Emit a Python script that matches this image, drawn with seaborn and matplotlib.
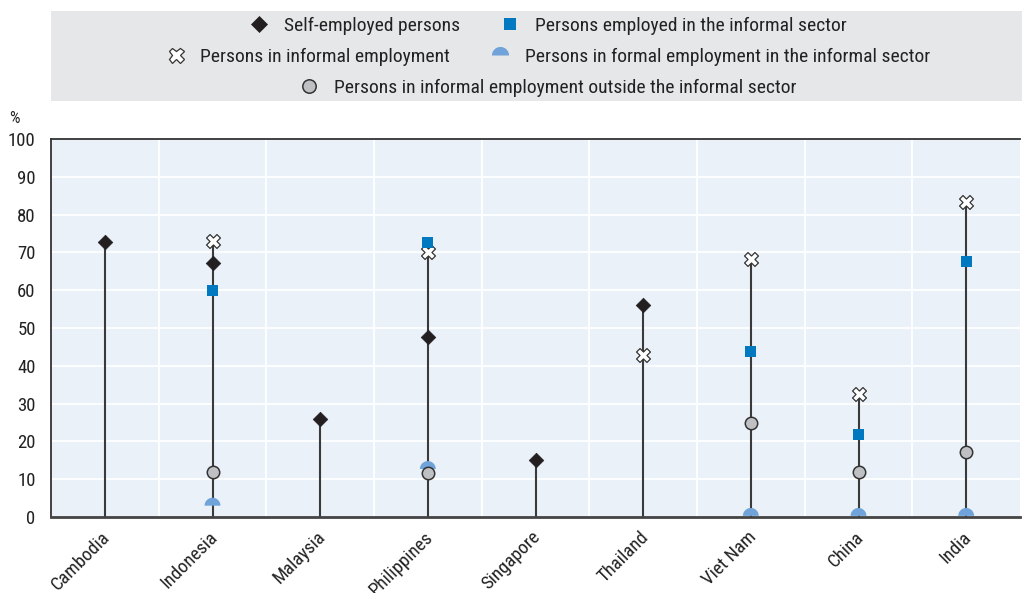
import numpy as np
import pandas as pd
import matplotlib
matplotlib.use("Agg")
import matplotlib.pyplot as plt
from matplotlib import font_manager
from matplotlib.lines import Line2D
from matplotlib.patches import Rectangle
from matplotlib.path import Path
from matplotlib.transforms import ScaledTranslation
import seaborn as sns

# ---- data (% of total employment) ----
countries = ["Cambodia", "Indonesia", "Malaysia", "Philippines", "Singapore",
             "Thailand", "Viet Nam", "China", "India"]
self_employed = [72.8, 67.3, 25.9, 47.5, 15.1, 56.0, np.nan, np.nan, np.nan]
informal_sector = [np.nan, 60.0, np.nan, 72.6, np.nan, np.nan, 43.7, 21.9, 67.6]
informal_employment = [np.nan, 73.1, np.nan, 70.0, np.nan, 42.8, 68.3, 32.5, 83.4]
formal_in_informal = [np.nan, 3.0, np.nan, 12.7, np.nan, np.nan, 0.3, 0.3, 0.3]
informal_outside = [np.nan, 12.0, np.nan, 11.6, np.nan, np.nan, 24.9, 12.0, 17.3]
y_ticks = [0, 10, 20, 30, 40, 50, 60, 70, 80, 90, 100]

labels = {
    "self": "Self-employed persons",
    "sector": "Persons employed in the informal sector",
    "inf": "Persons in informal employment",
    "formal": "Persons in formal employment in the informal sector",
    "outside": "Persons in informal employment outside the informal sector",
}

# ---- fonts: prefer a narrow sans ----
sns.set_theme(style="white")
available = {f.name for f in font_manager.fontManager.ttflist}
FAMILY = "Liberation Sans"
for cand in ["Arial Narrow", "Liberation Sans Narrow", "Roboto Condensed",
             "PT Sans Narrow", "Archivo Narrow", "Fira Sans Condensed",
             "IBM Plex Sans Condensed"]:
    if cand in available:
        FAMILY = cand
        break
FS_LEG = 14.0
FS_TICK = 13.5
plt.rcParams["font.family"] = [FAMILY, "DejaVu Sans"]

# ---- styles ----
C_DIAMOND = "#231f20"
C_SQUARE = "#0079c1"
C_HALF = "#6fa3d9"
C_CIRCLE = "#bfc0c3"
C_EDGE = "#333333"
C_STEM = "#3a3a3a"
C_TEXT = "#222222"
BG_PLOT = "#eaf1f9"
BG_LEGEND = "#e6e7e8"

theta = np.linspace(0, np.pi, 40)
half_disc = Path(np.column_stack([np.r_[np.cos(theta), 1.0],
                                  np.r_[np.sin(theta), 0.0]]))

df = pd.DataFrame({
    "country": countries,
    "self": self_employed,
    "sector": informal_sector,
    "inf": informal_employment,
    "formal": formal_in_informal,
    "outside": informal_outside,
})
long = df.melt(id_vars="country", var_name="series", value_name="value").dropna()

fig = plt.figure(figsize=(10.22, 5.93), dpi=100)
ax = fig.add_axes([51 / 1022, 1 - 517 / 593, (1020 - 51) / 1022, (517 - 139) / 593])
ax.set_facecolor(BG_PLOT)

pos = {c: i for i, c in enumerate(countries)}

# stems from zero to the highest value of each country
tops = df[["self", "sector", "inf", "formal", "outside"]].max(axis=1)
ax.vlines([pos[c] for c in countries], 0, tops, color=C_STEM, lw=1.5, zorder=2)

marker_spec = [
    ("formal", dict(marker=half_disc, s=130, color=C_HALF, edgecolor="none", linewidth=0)),
    ("inf", dict(marker="X", s=100, color="white", edgecolor=C_EDGE, linewidth=0.9)),
    ("self", dict(marker="D", s=55, color=C_DIAMOND, edgecolor=C_DIAMOND, linewidth=0.5)),
    ("sector", dict(marker="s", s=60, color=C_SQUARE, edgecolor="none", linewidth=0)),
    ("outside", dict(marker="o", s=80, color=C_CIRCLE, edgecolor=C_EDGE, linewidth=1.1)),
]
for z, (key, kw) in enumerate(marker_spec):
    sub = long[long["series"] == key].copy()
    sub["x"] = sub["country"].map(pos)
    sns.scatterplot(data=sub, x="x", y="value", ax=ax, legend=False,
                    zorder=3 + z, clip_on=False, **kw)

# ---- axes ----
ax.set_xlim(-0.5, len(countries) - 0.5)
ax.set_ylim(0, 100)
ax.set_xlabel("")
ax.set_ylabel("")
ax.set_yticks(y_ticks)
ax.set_yticklabels([str(t) for t in y_ticks], fontsize=FS_TICK, color=C_TEXT)
ax.set_xticks(range(len(countries)))
ax.set_xticklabels(countries, fontsize=FS_TICK, color=C_TEXT, rotation=45,
                   ha="right", va="top", rotation_mode="anchor")
ax.set_xticks(np.arange(0.5, len(countries) - 0.5, 1), minor=True)
ax.tick_params(axis="x", which="major", length=0, pad=8)
ax.tick_params(axis="x", which="minor", direction="in", length=5, width=1.2, color="#555555")
ax.tick_params(axis="y", which="major", direction="in", length=6, width=1.0,
               color="#555555", pad=11)

# nudge the rotated country names slightly left
shift = ScaledTranslation(-4 / 100, 0, fig.dpi_scale_trans)
for lab in ax.get_xticklabels():
    lab.set_transform(lab.get_transform() + shift)

for t in y_ticks[1:-1]:
    ax.axhline(t, color="white", lw=1.3, zorder=1)
for b in np.arange(0.5, len(countries) - 0.5, 1):
    ax.axvline(b, color="white", lw=1.3, zorder=1)

for side in ["left", "top"]:
    ax.spines[side].set_color("#333333")
    ax.spines[side].set_linewidth(1.3)
ax.spines["bottom"].set_color("#444444")
ax.spines["bottom"].set_linewidth(2.0)
ax.spines["right"].set_visible(False)

fig.text(14 / 1022, 1 - 118 / 593, "%", fontsize=12, ha="center",
         va="center", color=C_TEXT)

# ---- legend panel ----
fig.patches.append(Rectangle((51 / 1022, 1 - 101 / 593), (1022 - 51) / 1022, 90 / 593,
                             transform=fig.transFigure, facecolor=BG_LEGEND,
                             edgecolor="none", zorder=0))

def handle(key):
    spec = dict(marker_spec)[key]
    ms = np.sqrt(spec["s"]) * 1.08
    return Line2D([], [], linestyle="none", marker=spec["marker"], markersize=ms,
                  markerfacecolor=spec["color"], markeredgecolor=spec["edgecolor"],
                  markeredgewidth=spec["linewidth"])

rows = [(["self", "sector"], 1 - 26 / 593),
        (["inf", "formal"], 1 - 57 / 593),
        (["outside"], 1 - 88 / 593)]
for keys, yc in rows:
    leg = fig.legend([handle(k) for k in keys], [labels[k] for k in keys],
                     loc="center", bbox_to_anchor=(548 / 1022, yc), ncol=len(keys),
                     frameon=False, fontsize=FS_LEG, handlelength=1.0, handletextpad=0.75,
                     columnspacing=2.1, borderpad=0, borderaxespad=0)
    for txt in leg.get_texts():
        txt.set_color(C_TEXT)

fig.savefig("out.png", dpi=100)
